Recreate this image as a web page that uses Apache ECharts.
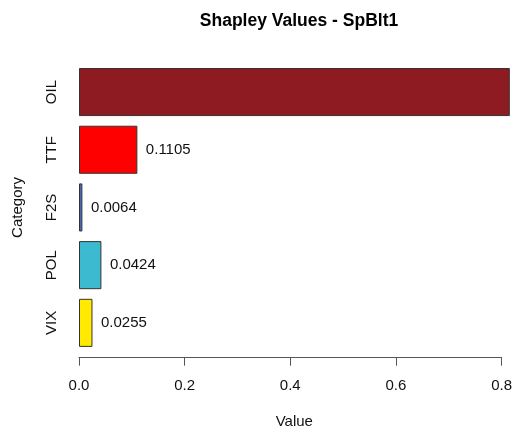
<!DOCTYPE html>
<html>
<head>
<meta charset="utf-8">
<script src="https://cdn.jsdelivr.net/npm/echarts@6/dist/echarts.min.js"></script>
<style>html,body{margin:0;padding:0;background:#fff;}#c{width:515px;height:435px;}</style>
</head>
<body>
<div id="c"></div>
<script>
const categories = ["OIL", "TTF", "F2S", "POL", "VIX"];
const values = [0.8156, 0.1105, 0.0064, 0.0424, 0.0255];
const valueLabels = ["", "0.1105", "0.0064", "0.0424", "0.0255"];
const colors = ["#8E1A22", "#FF0000", "#4A68B8", "#3BBAD0", "#FFEA00"];
const xTicks = [0, 0.2, 0.4, 0.6, 0.8];

const chart = echarts.init(document.getElementById('c'), null, {renderer: 'canvas'});
const font = "Liberation Sans, Arial, Helvetica, sans-serif";
chart.setOption({
  animation: false,
  backgroundColor: '#ffffff',
  title: {
    text: 'Shapley Values - SpBlt1',
    left: 294, top: 7, textAlign: 'center',
    textStyle: {fontFamily: font, fontSize: 17.5, fontWeight: 'bold', color: '#000'}
  },
  grid: {left: 79, top: 63.2, width: 424.7, height: 288.5, containLabel: false},
  xAxis: {
    type: 'value', min: 0, max: 0.8, interval: 0.2,
    offset: 6,
    axisLine: {show: true, lineStyle: {color: '#555', width: 1}},
    axisTick: {show: true, length: 8, inside: false, lineStyle: {color: '#555'}},
    splitLine: {show: false},
    axisLabel: {margin: 21, fontFamily: font, fontSize: 15, color: '#111',
      formatter: v => xTicks.includes(+v.toFixed(1)) ? v.toFixed(1) : ''},
    name: 'Value', nameLocation: 'middle', nameGap: 56.5,
    nameTextStyle: {fontFamily: font, fontSize: 15, color: '#111', padding: [0, 0, 0, 8]}
  },
  yAxis: {
    type: 'category', data: categories, inverse: true,
    axisLine: {show: false}, axisTick: {show: false},
    axisLabel: {rotate: 90, margin: 19.5, fontFamily: font, fontSize: 15, color: '#111'},
    name: 'Category', nameLocation: 'middle', nameGap: 54,
    nameTextStyle: {fontFamily: font, fontSize: 15, color: '#111'}
  },
  series: [{
    type: 'bar',
    clip: false,
    barCategoryGap: '16.7%',
    data: values.map((v, i) => ({
      value: v,
      itemStyle: {color: colors[i], borderColor: '#333', borderWidth: 1},
      label: {show: valueLabels[i] !== '', formatter: valueLabels[i]}
    })),
    label: {position: 'right', distance: 8.5, fontFamily: font, fontSize: 15, color: '#111'}
  }]
});
</script>
</body>
</html>
